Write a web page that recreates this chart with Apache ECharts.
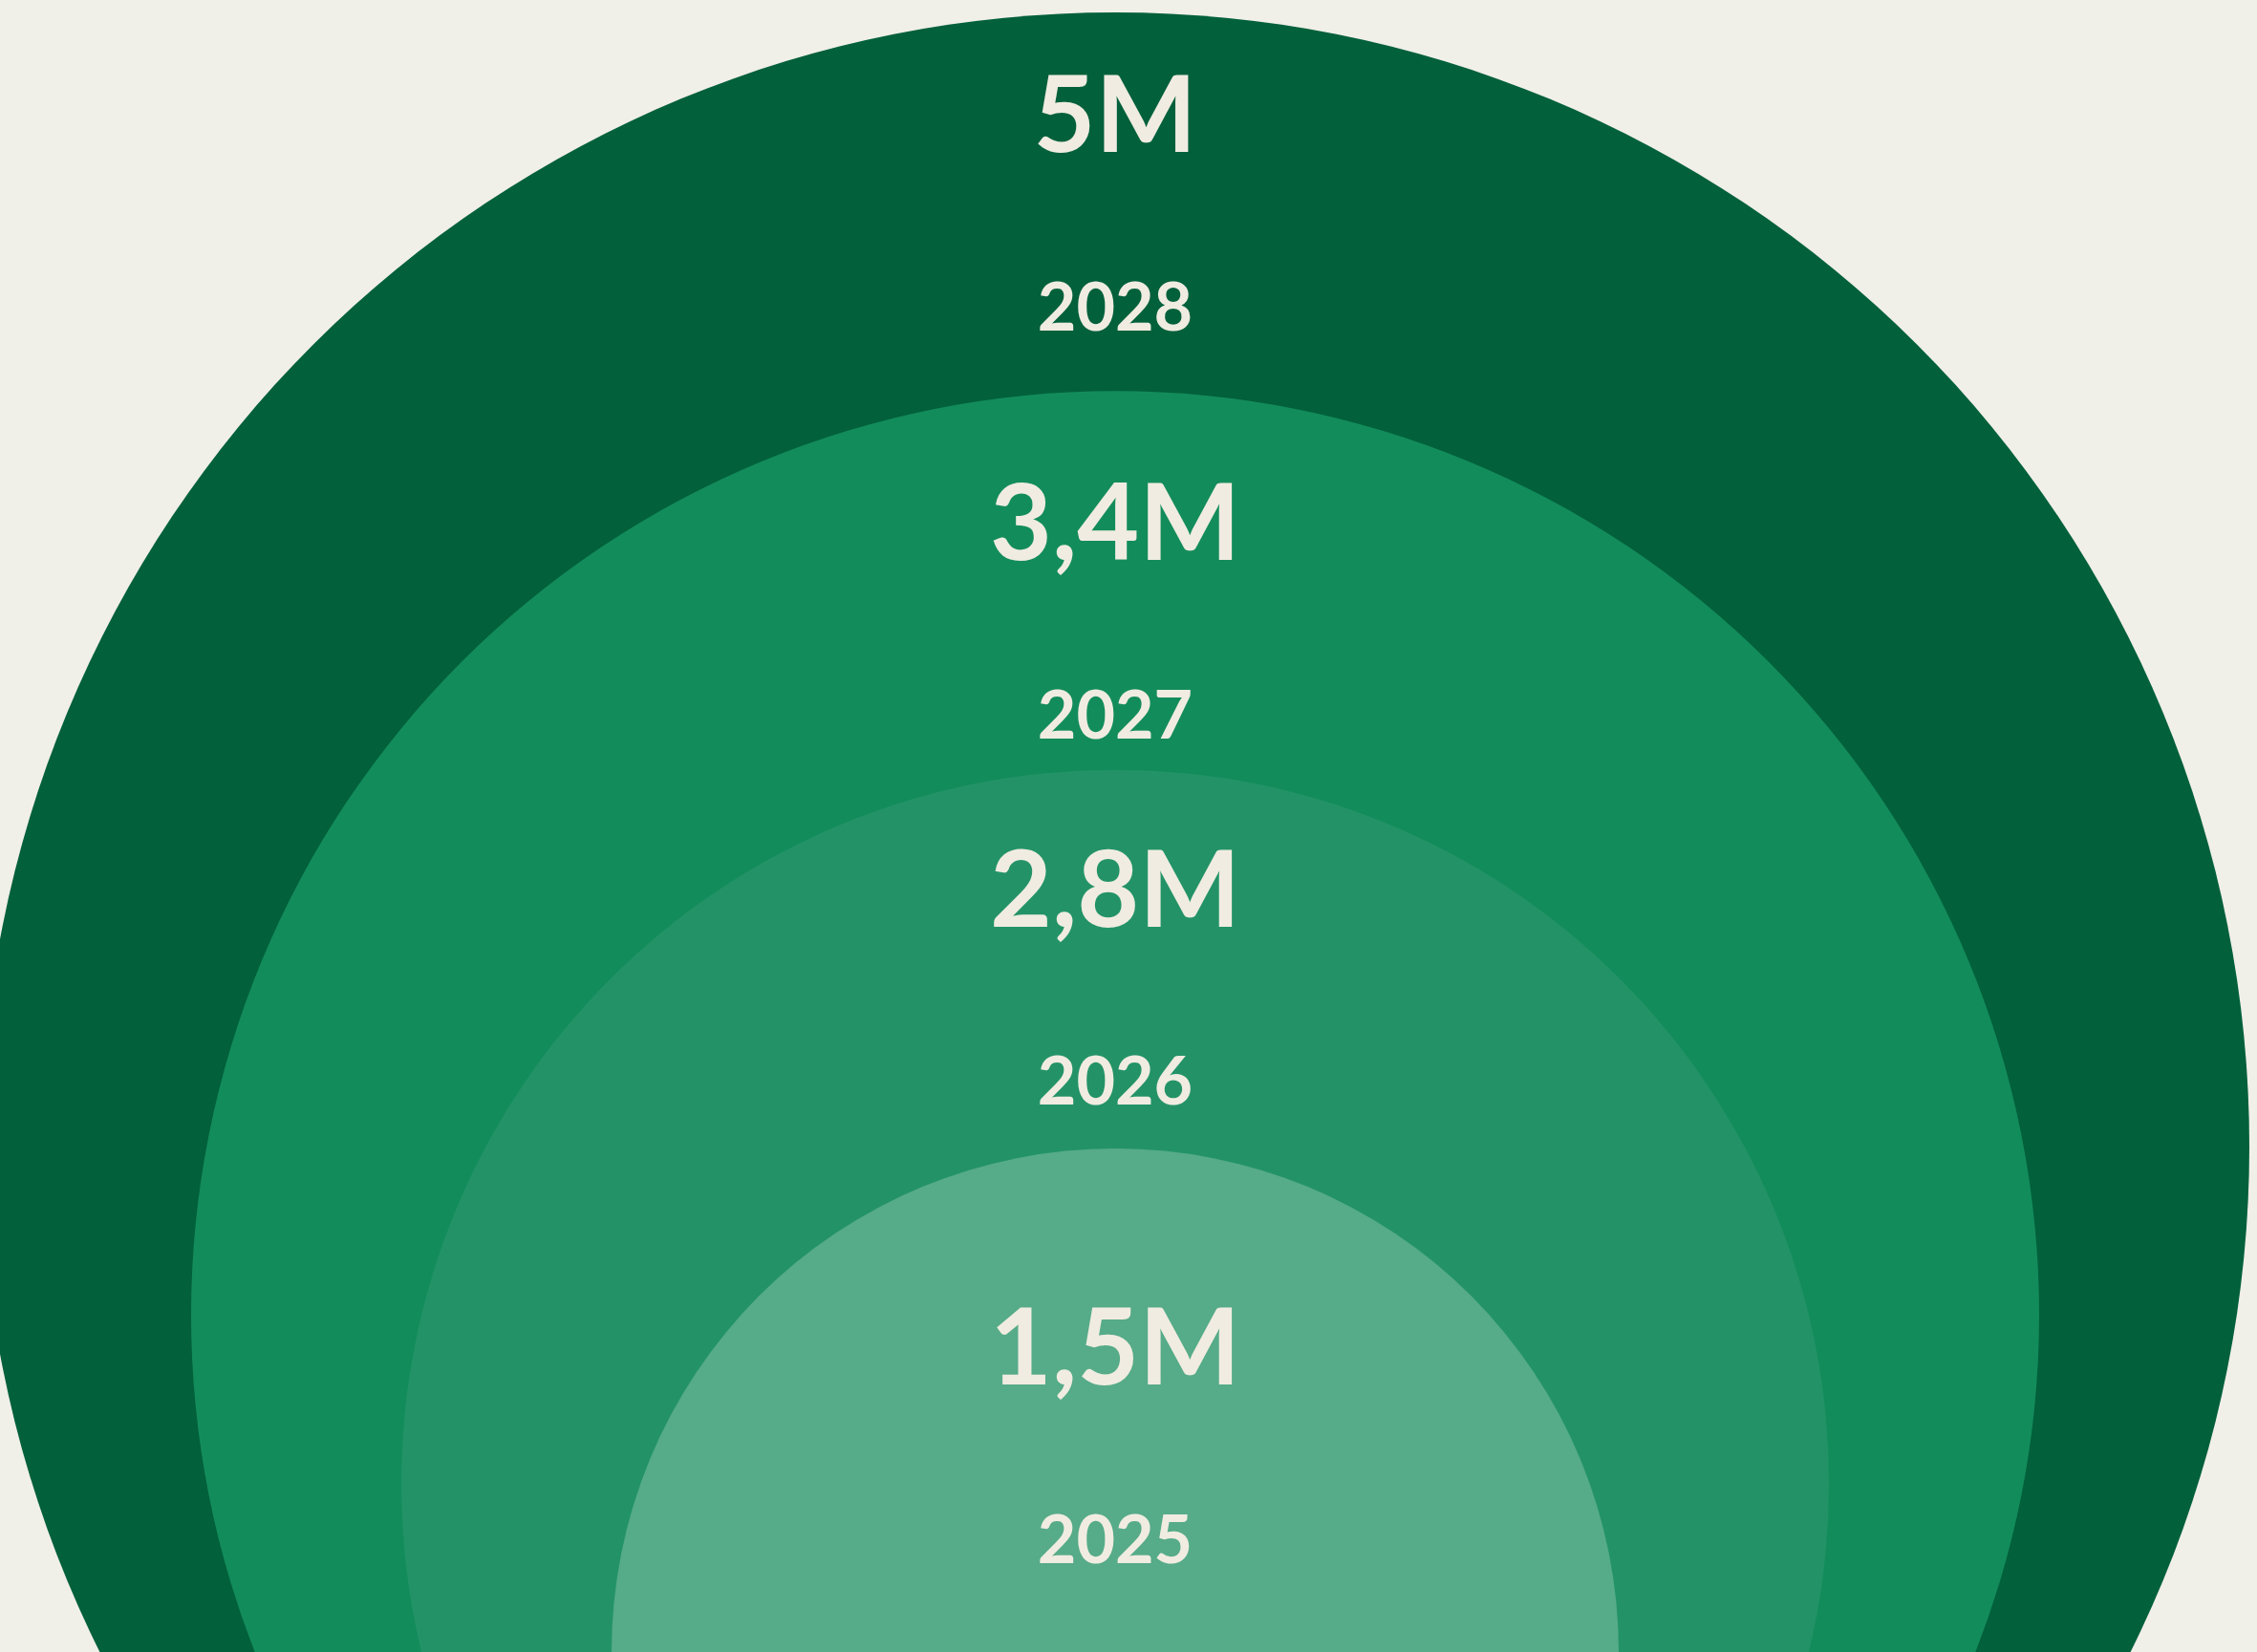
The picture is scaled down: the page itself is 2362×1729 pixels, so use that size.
<!DOCTYPE html>
<html>
<head>
<meta charset="utf-8">
<title>circles</title>
<script src="https://cdn.jsdelivr.net/npm/echarts@6/dist/echarts.min.js"></script>
<style>
html,body{margin:0;padding:0;background:#F0EFE8;}
#main{width:2362px;height:1729px;}
</style>
</head>
<body>
<div id="main"></div>
<script>
// data
var years=['2025','2026','2027','2028'];
var values=[1.5,2.8,3.4,5];

// look
var colors=['#56AB88','#239367','#138C5B','#02603B'];
var labelDrop=[111,28,41,10];

window.onload=function(){
    var chart=echarts.init(document.getElementById("main"));
    var items=[];
    // biggest first so the smaller ones sit on top
    for(var i=years.length-1;i>=0;i--){
        items.push({
            name:years[i],
            value:[0,years[i],values[i]],
            itemStyle:{color:colors[i],opacity:1},
            label:{distance:labelDrop[i]}
        });
    }
    var option={
        backgroundColor:'#F0EFE8',
        animation:false,
        grid:{left:0,right:28,top:1200,height:540},
        xAxis:{type:'value',min:-1,max:1,show:false},
        yAxis:{type:'category',data:years,boundaryGap:false,show:false},
        series:[{
            type:'scatter',
            clip:false,
            symbol:'circle',
            symbolSize:function(val){
                var k=years.indexOf(val[1]);
                return 2*(527+220*k);
            },
            itemStyle:{opacity:1},
            emphasis:{disabled:true},
            label:{
                show:true,
                position:'insideTop',
                formatter:function(p){
                    var v=String(p.value[2]).replace('.',',')+'M';
                    return '{v|'+v+'}\n{y|'+p.name+'}';
                },
                rich:{
                    v:{fontFamily:'Lato',fontWeight:'bold',fontSize:112,color:'#F0ECE1',lineHeight:200},
                    y:{fontFamily:'Lato',fontWeight:'bold',fontSize:70,color:'#F0ECE1',lineHeight:200}
                }
            },
            data:items
        }]
    };
    chart.setOption(option);
};
</script>
</body>
</html>
